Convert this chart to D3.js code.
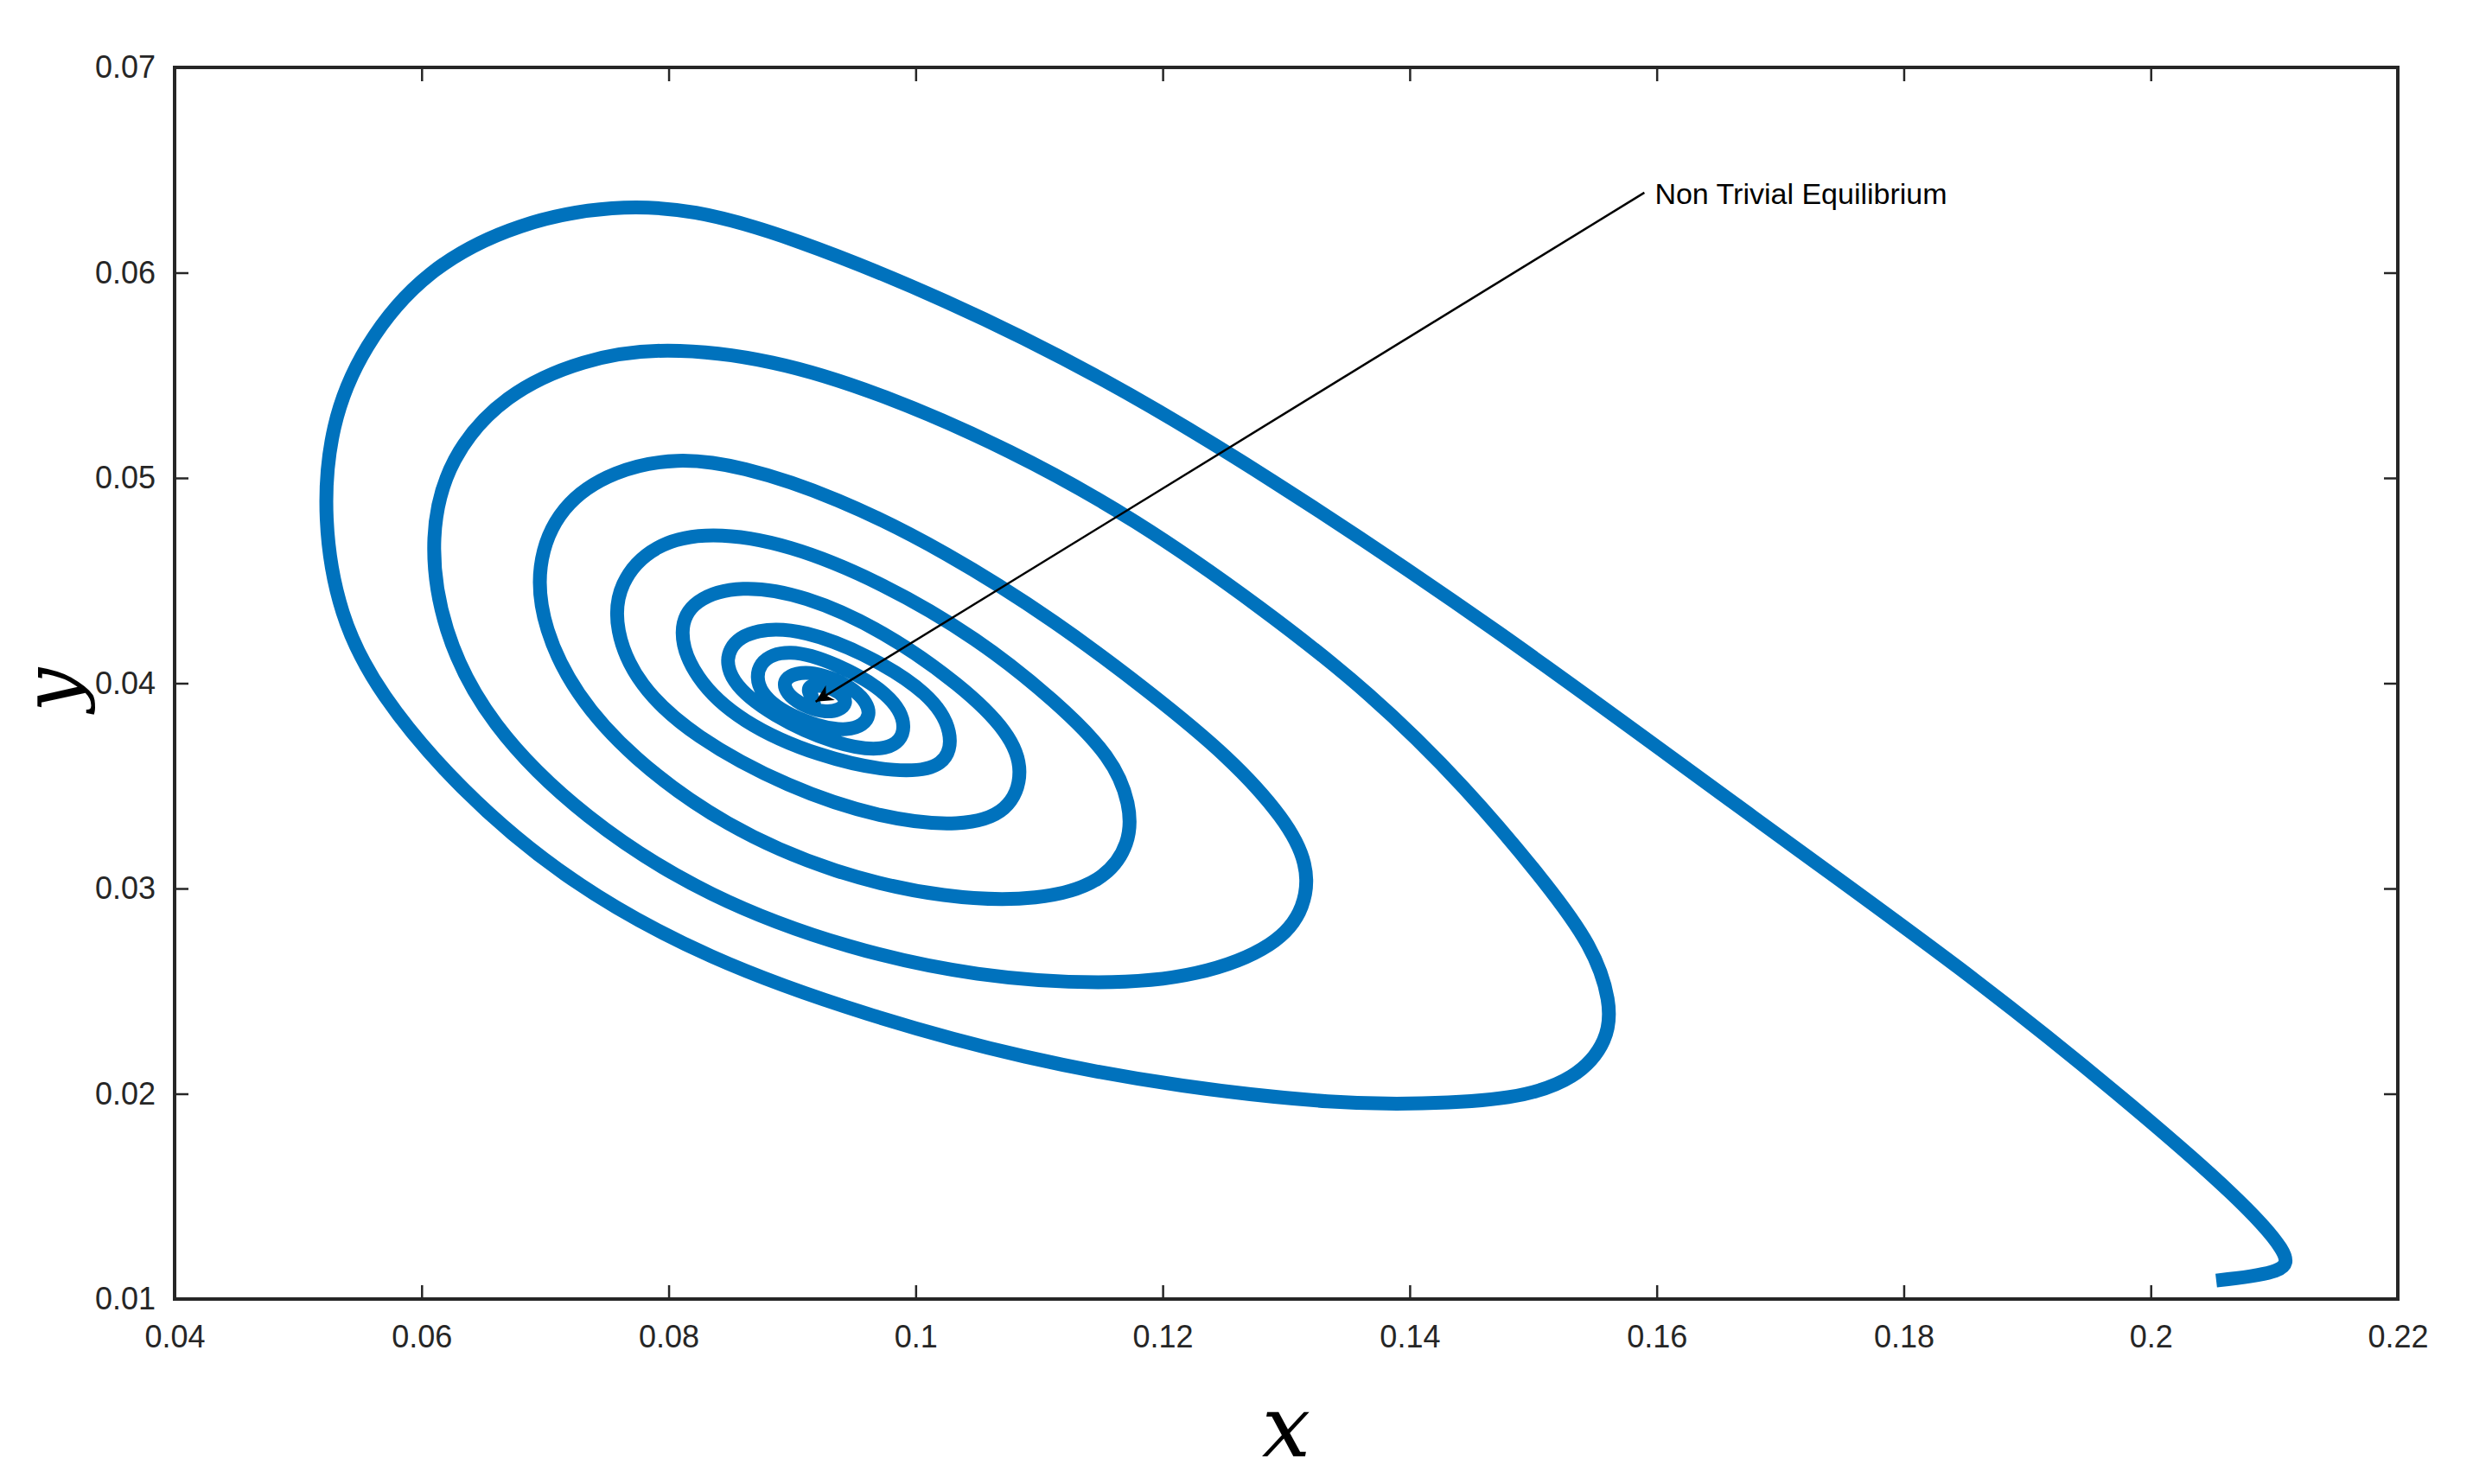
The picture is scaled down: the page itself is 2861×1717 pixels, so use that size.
<!DOCTYPE html>
<html><head><meta charset="utf-8">
<script src="https://cdn.jsdelivr.net/npm/d3@7"></script>
<style>body{margin:0;background:#fff}</style></head>
<body><svg id="c" width="2861" height="1717"></svg>
<script>
const xTicks=[0.04,0.06,0.08,0.1,0.12,0.14,0.16,0.18,0.2,0.22];
const yTicks=[0.01,0.02,0.03,0.04,0.05,0.06,0.07];
const xs=[0.2053,0.211,0.2112,0.2072,0.1982,0.1855,0.1663,0.1472,0.1280,0.1152,0.1025,0.0897,0.0820,0.0756,0.0680,0.0603,0.0552,0.0526,0.0520,0.0533,0.0565,0.0629,0.0718,0.0833,0.0961,0.1088,0.1216,0.1344,0.1408,0.1484,0.1535,0.1561,0.1563,0.1548,0.1510,0.1446,0.1369,0.1280,0.1178,0.1076,0.0973,0.0884,0.0795,0.0731,0.0667,0.0622,0.0606,0.0616,0.0654,0.0731,0.0833,0.0948,0.1050,0.1152,0.1229,0.1293,0.1316,0.1318,0.1299,0.1254,0.1191,0.1114,0.1025,0.0935,0.0858,0.0807,0.0756,0.0712,0.0692,0.0699,0.0724,0.0769,0.0846,0.0935,0.1025,0.1101,0.1152,0.1174,0.1174,0.1159,0.1114,0.1050,0.0973,0.0897,0.0833,0.0788,0.0759,0.0756,0.0775,0.0820,0.0897,0.0973,0.1037,0.1076,0.1088,0.1076,0.1037,0.0973,0.0910,0.0858,0.0820,0.0807,0.0820,0.0858,0.0922,0.0986,0.1025,0.1031,0.1012,0.0961,0.0910,0.0871,0.0846,0.0848,0.0884,0.0935,0.0980,0.0995,0.0980,0.0935,0.0897,0.0871,0.0871,0.0903,0.0948,0.0967,0.0954,0.0916,0.0890,0.0897,0.0929,0.0948,0.0935,0.0910,0.0916,0.0922];
const ys=[0.0109,0.0113,0.0122,0.0149,0.0196,0.0258,0.0341,0.0426,0.0503,0.0549,0.0587,0.0618,0.0631,0.0633,0.0625,0.0602,0.0564,0.0526,0.0480,0.0433,0.0395,0.0349,0.0303,0.0265,0.0238,0.0217,0.0203,0.0195,0.0195,0.0197,0.0207,0.0226,0.0245,0.0272,0.0303,0.0349,0.0395,0.0437,0.0480,0.0514,0.0541,0.0558,0.0564,0.0558,0.0541,0.0510,0.0472,0.0426,0.0380,0.0334,0.0295,0.0270,0.0257,0.0253,0.0257,0.0272,0.0291,0.0312,0.0334,0.0364,0.0395,0.0430,0.0464,0.0491,0.0506,0.0510,0.0504,0.0487,0.0457,0.0426,0.0395,0.0364,0.0330,0.0307,0.0295,0.0294,0.0303,0.0322,0.0341,0.0364,0.0391,0.0422,0.0449,0.0468,0.0474,0.0468,0.0449,0.0426,0.0399,0.0374,0.0349,0.0334,0.0330,0.0337,0.0357,0.0376,0.0399,0.0426,0.0443,0.0448,0.0441,0.0426,0.0403,0.0381,0.0364,0.0356,0.0359,0.0376,0.0395,0.0414,0.0426,0.0427,0.0418,0.0401,0.0384,0.0370,0.0366,0.0378,0.0395,0.0410,0.0417,0.0411,0.0395,0.0382,0.0375,0.0384,0.0397,0.0407,0.0403,0.0392,0.0384,0.0390,0.0398,0.0400,0.0392,0.0393];
const annoText="Non Trivial Equilibrium";
const annoFrom=[0.1590,0.0639], annoTo=[0.0919,0.0391];

const L=202,R=2774,T=78,B=1503;
const svg=d3.select("#c");
const x=d3.scaleLinear().domain([0.04,0.22]).range([L,R]);
const y=d3.scaleLinear().domain([0.01,0.07]).range([B,T]);
const font="'Liberation Sans Narrow','Arial Narrow','Liberation Sans',Arial,sans-serif";
const ax=(g,a)=>{g.call(a);g.select(".domain").remove();g.selectAll("line").attr("stroke","#262626").attr("stroke-width",2.5);g.selectAll("text").attr("font-family",font).attr("font-size",36).attr("fill","#262626");};
const fmt=d=>String(+d.toFixed(2));
svg.append("g").attr("transform",`translate(0,${B})`).call(g=>ax(g,d3.axisBottom(x).tickValues(xTicks).tickFormat(fmt).tickSizeInner(-16).tickPadding(30)));
svg.append("g").attr("transform",`translate(0,${T})`).call(g=>ax(g,d3.axisTop(x).tickValues(xTicks).tickFormat("").tickSizeInner(-16)));
svg.append("g").attr("transform",`translate(${L},0)`).call(g=>ax(g,d3.axisLeft(y).tickValues(yTicks).tickFormat(fmt).tickSizeInner(-16).tickPadding(22)));
svg.append("g").attr("transform",`translate(${R},0)`).call(g=>ax(g,d3.axisRight(y).tickValues(yTicks).tickFormat("").tickSizeInner(-16)));
svg.append("rect").attr("x",L).attr("y",T).attr("width",R-L).attr("height",B-T).attr("fill","none").attr("stroke","#262626").attr("stroke-width",4);

const pts=xs.map((v,i)=>[v,ys[i]]);
svg.append("path").datum(pts).attr("fill","none").attr("stroke","#0072BD").attr("stroke-width",16).attr("stroke-linejoin","round")
 .attr("d",d3.line().x(d=>x(d[0])).y(d=>y(d[1])).curve(d3.curveBasis));

svg.append("defs").append("marker").attr("id","ar").attr("viewBox","0 0 10 10").attr("refX",10).attr("refY",5)
 .attr("markerWidth",30).attr("markerHeight",20).attr("markerUnits","userSpaceOnUse").attr("orient","auto")
 .append("path").attr("d","M0,0L10,5L0,10L3,5Z").attr("fill","#000");
svg.append("line").attr("x1",x(annoFrom[0])).attr("y1",y(annoFrom[1])).attr("x2",x(annoTo[0])).attr("y2",y(annoTo[1]))
 .attr("stroke","#000").attr("stroke-width",2.5).attr("marker-end","url(#ar)");
svg.append("text").attr("x",x(annoFrom[0])+12).attr("y",y(annoFrom[1])+13).attr("font-family",font).attr("font-size",34).text(annoText);

svg.append("text").attr("x",(L+R)/2).attr("y",1685).attr("text-anchor","middle").attr("font-family","'DejaVu Serif',serif").attr("font-style","italic").attr("font-size",100).text("x");
svg.append("text").attr("transform","translate(90,798) rotate(-90)").attr("text-anchor","middle").attr("font-family","'DejaVu Serif',serif").attr("font-style","italic").attr("font-size",90).text("y");
</script></body></html>
